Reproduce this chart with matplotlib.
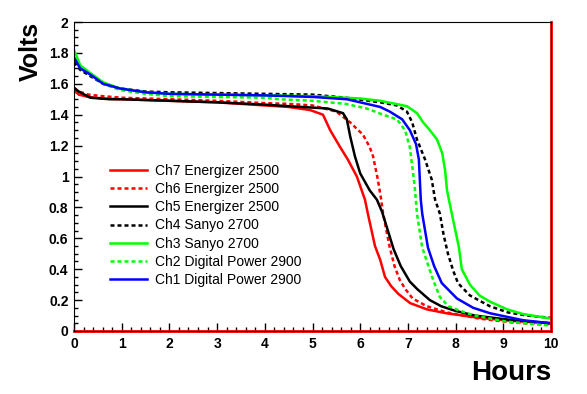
import matplotlib.pyplot as plt

plt.rcParams['font.family'] = ['Liberation Sans', 'DejaVu Sans']

# discharge curves (hours, volts)
ch7_h = [0, 0.1, 0.3, 0.6, 1.0, 2.0, 3.0, 4.0, 4.5, 4.95, 5.22, 5.37, 5.58, 5.74, 5.93, 6.1, 6.16, 6.31, 6.42, 6.52, 6.65, 6.8, 7.05, 7.4, 7.8, 8.5, 9.2, 10]
ch7_v = [1.56, 1.53, 1.515, 1.505, 1.50, 1.49, 1.48, 1.46, 1.45, 1.43, 1.40, 1.30, 1.19, 1.11, 1.00, 0.85, 0.76, 0.55, 0.46, 0.35, 0.29, 0.24, 0.18, 0.14, 0.115, 0.085, 0.065, 0.05]

ch6_h = [0, 0.1, 0.3, 0.6, 1.0, 2.0, 3.0, 4.0, 4.5, 5.0, 5.5, 5.79, 6.06, 6.2, 6.27, 6.37, 6.44, 6.48, 6.62, 6.72, 6.83, 6.95, 7.1, 7.4, 7.82, 8.5, 9.2, 10]
ch6_v = [1.57, 1.55, 1.53, 1.52, 1.51, 1.50, 1.49, 1.475, 1.47, 1.46, 1.42, 1.35, 1.27, 1.19, 1.13, 0.98, 0.85, 0.76, 0.54, 0.42, 0.33, 0.27, 0.21, 0.16, 0.12, 0.08, 0.055, 0.04]

ch5_h = [0, 0.1, 0.34, 0.75, 1.0, 2.0, 3.0, 4.0, 4.5, 5.32, 5.64, 5.72, 5.79, 5.89, 6.0, 6.2, 6.35, 6.46, 6.7, 6.85, 7.04, 7.2, 7.46, 7.7, 8.0, 8.4, 9.2, 10]
ch5_v = [1.575, 1.55, 1.51, 1.50, 1.50, 1.49, 1.48, 1.465, 1.455, 1.44, 1.41, 1.37, 1.26, 1.13, 1.02, 0.91, 0.85, 0.77, 0.53, 0.42, 0.32, 0.27, 0.20, 0.16, 0.13, 0.10, 0.07, 0.05]

ch4_h = [0, 0.13, 0.34, 0.61, 0.96, 1.5, 2.0, 3.0, 4.0, 5.0, 5.7, 6.42, 6.77, 6.98, 7.09, 7.19, 7.36, 7.5, 7.57, 7.67, 7.75, 7.84, 7.95, 8.05, 8.3, 8.72, 9.1, 9.5, 10]
ch4_v = [1.74, 1.69, 1.65, 1.60, 1.57, 1.55, 1.545, 1.54, 1.535, 1.53, 1.51, 1.48, 1.46, 1.42, 1.35, 1.24, 1.11, 0.98, 0.85, 0.76, 0.62, 0.50, 0.39, 0.31, 0.23, 0.16, 0.12, 0.10, 0.085]

ch3_h = [0, 0.13, 0.34, 0.61, 0.96, 1.5, 2.0, 3.0, 4.0, 5.0, 6.0, 6.42, 6.98, 7.19, 7.32, 7.46, 7.61, 7.72, 7.78, 7.82, 7.92, 8.07, 8.13, 8.3, 8.5, 8.72, 9.08, 9.41, 10]
ch3_v = [1.82, 1.72, 1.67, 1.61, 1.57, 1.545, 1.535, 1.53, 1.525, 1.52, 1.505, 1.49, 1.455, 1.41, 1.35, 1.30, 1.24, 1.15, 1.04, 0.91, 0.76, 0.54, 0.40, 0.30, 0.23, 0.19, 0.14, 0.11, 0.08]

ch2_h = [0, 0.13, 0.34, 0.61, 0.96, 1.5, 2.0, 3.0, 4.0, 4.3, 5.0, 5.7, 6.14, 6.48, 6.77, 6.94, 7.04, 7.11, 7.15, 7.19, 7.3, 7.53, 7.67, 7.85, 8.1, 8.4, 9.08, 10]
ch2_v = [1.80, 1.71, 1.66, 1.60, 1.56, 1.535, 1.52, 1.515, 1.51, 1.50, 1.49, 1.47, 1.44, 1.40, 1.37, 1.30, 1.19, 1.02, 0.91, 0.76, 0.54, 0.33, 0.22, 0.16, 0.13, 0.10, 0.06, 0.035]

ch1_h = [0, 0.13, 0.34, 0.61, 0.96, 1.5, 2.0, 3.0, 4.0, 5.0, 5.72, 6.42, 6.62, 6.88, 7.04, 7.17, 7.23, 7.25, 7.27, 7.3, 7.42, 7.55, 7.71, 8.03, 8.37, 8.72, 9.41, 10]
ch1_v = [1.77, 1.70, 1.66, 1.60, 1.57, 1.545, 1.535, 1.53, 1.525, 1.515, 1.50, 1.45, 1.42, 1.37, 1.30, 1.21, 1.11, 0.98, 0.85, 0.76, 0.54, 0.42, 0.31, 0.21, 0.15, 0.115, 0.07, 0.05]

labels = ['Ch7 Energizer 2500', 'Ch6 Energizer 2500', 'Ch5 Energizer 2500',
          'Ch4 Sanyo 2700', 'Ch3 Sanyo 2700', 'Ch2 Digital Power 2900',
          'Ch1 Digital Power 2900']

dotted = (0, (1.6, 1.2))
series = [
    (ch7_h, ch7_v, '#ff0000', '-'),
    (ch6_h, ch6_v, '#ff0000', dotted),
    (ch5_h, ch5_v, 'black', '-'),
    (ch4_h, ch4_v, 'black', dotted),
    (ch3_h, ch3_v, '#00ff00', '-'),
    (ch2_h, ch2_v, '#00ff00', dotted),
    (ch1_h, ch1_v, '#0000ff', '-'),
]

fig = plt.figure(figsize=(5.87, 3.94), dpi=100)
ax = fig.add_axes([74/587, 63/394, 477/587, 309/394])

handles = []
for (h, v, c, ls), lab in zip(series, labels):
    ln, = ax.plot(h, v, color=c, linestyle=ls, lw=1.8, label=lab)
    handles.append(ln)

# red marker lines along the bottom and right edge, as in the original
ax.axhline(0, color='#ff0000', lw=2, clip_on=False)
ax.axvline(10, color='#ff0000', lw=2, clip_on=False)

ax.set_xlim(0, 10)
ax.set_ylim(0, 2)
ax.set_xticks(range(0, 11))
ax.set_yticks([0, 0.2, 0.4, 0.6, 0.8, 1, 1.2, 1.4, 1.6, 1.8, 2])
ax.set_yticklabels(['0', '0.2', '0.4', '0.6', '0.8', '1', '1.2', '1.4', '1.6', '1.8', '2'])
ax.set_xticks([i * 0.2 for i in range(51)], minor=True)
ax.set_yticks([i * 0.05 for i in range(41)], minor=True)
ax.tick_params(which='both', direction='in', top=False, right=False)
ax.tick_params(which='major', length=6, width=1, labelsize=10, pad=4)
ax.tick_params(which='minor', length=3, width=1)
for lbl in ax.get_xticklabels() + ax.get_yticklabels():
    lbl.set_fontweight('bold')

fig.text(31/587, 1 - 22/394, 'Volts', rotation=90, ha='center', va='top',
         fontsize=18, fontweight='bold')
fig.text(551/587, 1 - 373/394, 'Hours', ha='right', va='center',
         fontsize=20, fontweight='bold')

ax.legend(handles=handles, loc='upper left', bbox_to_anchor=(110/587, 1 - 164/394),
          bbox_transform=fig.transFigure, frameon=False, fontsize=10,
          handlelength=2.65, handletextpad=0.57, labelspacing=0.3,
          borderpad=0, borderaxespad=0)

fig.savefig('out.png', dpi=100)
